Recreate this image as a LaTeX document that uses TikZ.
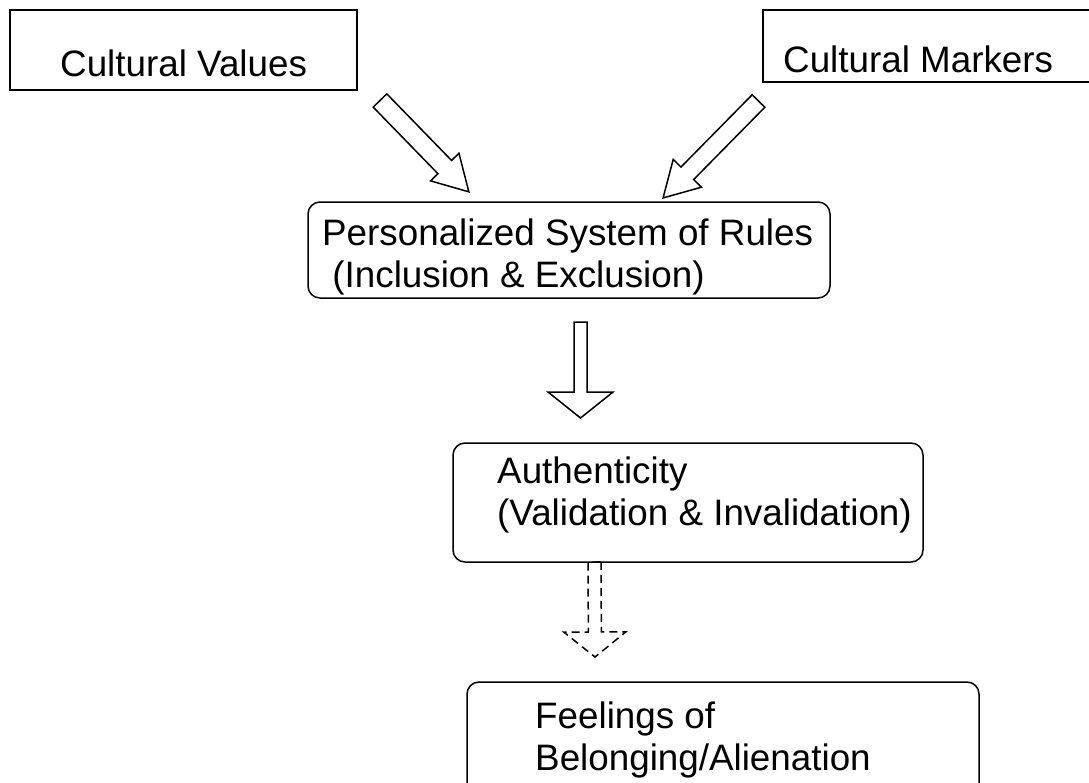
\documentclass[tikz,border=0pt]{standalone}
\usepackage{fontspec}
\setmainfont{Liberation Sans}
\usepackage{tikz}
\usetikzlibrary{calc}
\tikzstyle{sqbox} = [draw, line width=1.5pt, inner sep=0pt]
\tikzstyle{rndbox} = [draw, line width=1.5pt, inner sep=0pt, rounded corners=12pt]
\tikzstyle{txt} = [inner sep=0pt, align=left, font=\fontsize{36.8}{42}\selectfont]
\tikzset{blockarrow/.style args={#1/#2/#3}{line width=1.5pt, to path={
  let \p1=(\tikztostart), \p2=(\tikztotarget),
      \n1={atan2(\y2-\y1,\x2-\x1)}, \n2={veclen(\x2-\x1,\y2-\y1)} in
  ([shift={(\p1)},rotate=\n1]0pt,#1) -- ([shift={(\p1)},rotate=\n1]\n2-#3,#1)
  -- ([shift={(\p1)},rotate=\n1]\n2-#3,#2) -- ([shift={(\p1)},rotate=\n1]\n2,0pt)
  -- ([shift={(\p1)},rotate=\n1]\n2-#3,-#2) -- ([shift={(\p1)},rotate=\n1]\n2-#3,-#1)
  -- ([shift={(\p1)},rotate=\n1]0pt,-#1) -- cycle}}}

\begin{document}
\begin{tikzpicture}[x=1pt,y=-1pt]
\useasboundingbox (0,0) rectangle (1089,782);

% Top boxes
\node[sqbox, minimum width=347pt, minimum height=80pt] (values) at (183.5,50) {};
\node[txt, anchor=base west] (values-t) at (60,76) {Cultural Values};
\node[sqbox, minimum width=337pt, minimum height=72pt] (markers) at (931.5,46) {};
\node[txt, anchor=base west] (markers-t) at (783,72) {Cultural Markers};

% Rules (base = last line)
\node[rndbox, minimum width=522pt, minimum height=96pt] (rules) at (569,250) {};
\node[txt, anchor=base west] (rules-t) at (322,287) {Personalized System of Rules\\\ (Inclusion \& Exclusion)};

% Authenticity
\node[rndbox, minimum width=470pt, minimum height=119pt] (auth) at (688,502.5) {};
\node[txt, anchor=base west] (auth-t) at (497,525) {Authenticity\\(Validation \& Invalidation)};

% Belonging
\node[rndbox, minimum width=512pt, minimum height=128pt] (feel) at (723,746) {};
\node[txt, anchor=base west] (feel-t) at (535,770) {Feelings of\\Belonging/Alienation};

% Block arrows
\coordinate (v-out) at (380,100.5);
\coordinate (v-in) at (469,192);
\coordinate (m-out) at (758.5,101);
\coordinate (m-in) at (663,198);
\coordinate (r-out) at (580.5,322);
\coordinate (r-in) at (580.5,418);
\coordinate (a-out) at (594.5,562);
\coordinate (a-in) at (595,657);
\draw[blockarrow={9.5pt/19.8pt/34.6pt}] (v-out) to (v-in);
\draw[blockarrow={8.9pt/19.8pt/34.6pt}] (m-out) to (m-in);
\draw[blockarrow={6.5pt/32.5pt/26pt}] (r-out) to (r-in);
\draw[blockarrow={6.5pt/31pt/25pt}, dash pattern=on 8pt off 5pt] (a-out) to (a-in);
\end{tikzpicture}
\end{document}
